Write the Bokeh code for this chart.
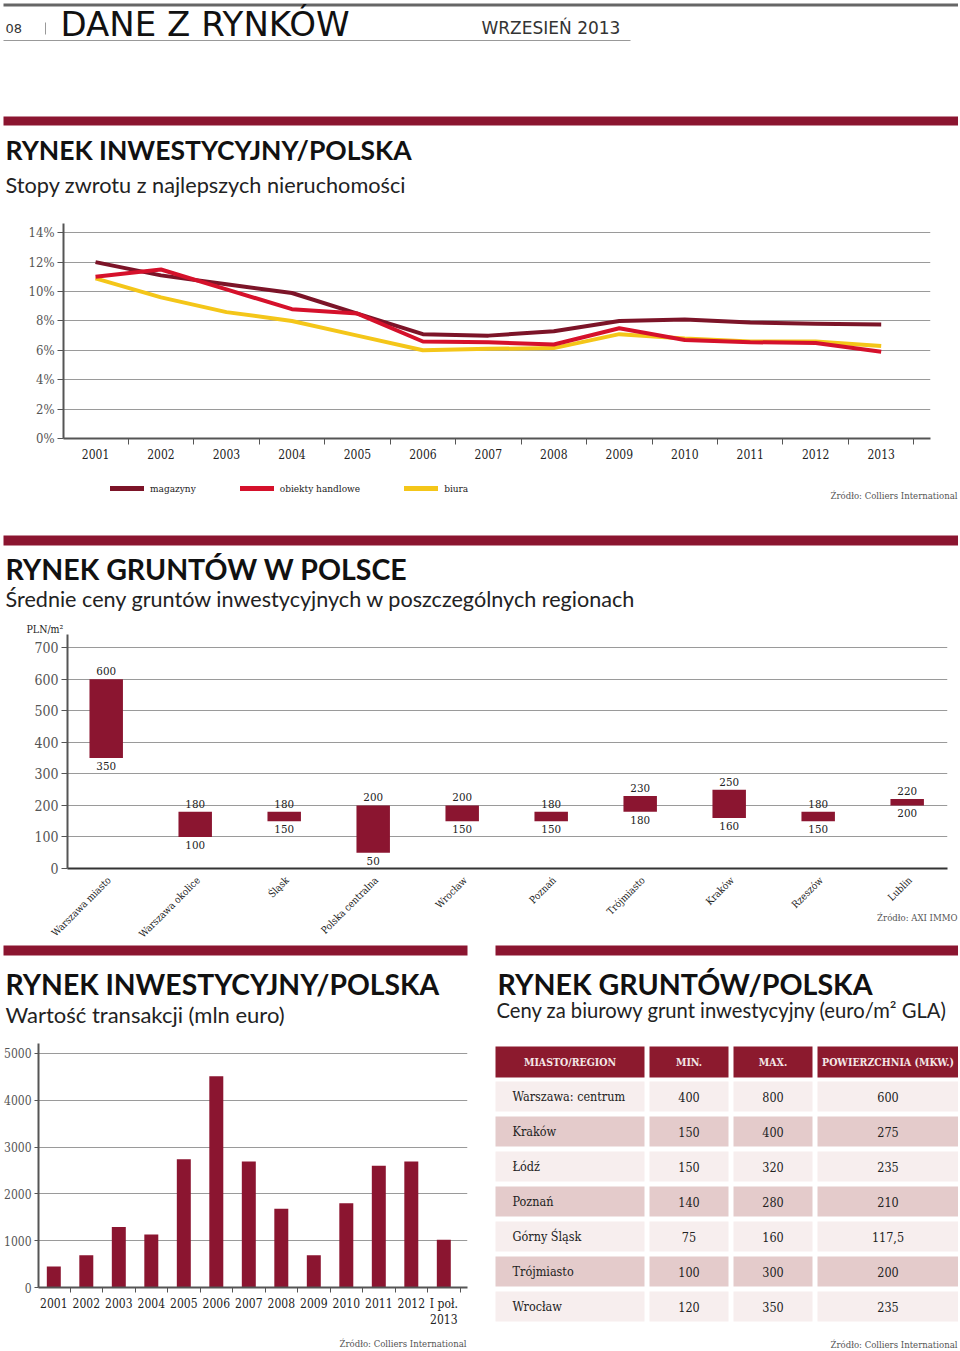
import math
from bokeh.plotting import figure
from bokeh.layouts import column, row
from bokeh.models import Range1d, FixedTicker, Legend, LegendItem, ColumnDataSource
from bokeh.core.properties import value
from bokeh.embed import file_html
from bokeh.resources import INLINE

# ---------------- data ----------------
years = [2001, 2002, 2003, 2004, 2005, 2006, 2007, 2008, 2009, 2010, 2011, 2012, 2013]
magazyny = [12.0, 11.1, 10.5, 9.9, 8.5, 7.1, 7.0, 7.3, 8.0, 8.1, 7.9, 7.8, 7.75]
obiekty_handlowe = [11.0, 11.5, 10.15, 8.8, 8.5, 6.6, 6.55, 6.4, 7.5, 6.7, 6.55, 6.5, 5.9]
biura = [10.9, 9.6, 8.6, 8.0, 7.0, 6.0, 6.1, 6.15, 7.1, 6.8, 6.6, 6.6, 6.3]
pct_ticks = [0, 2, 4, 6, 8, 10, 12, 14]
pct_labels = ["0%", "2%", "4%", "6%", "8%", "10%", "12%", "14%"]

regions = ["Warszawa miasto", "Warszawa okolice", "Śląsk", "Polska centralna", "Wrocław",
           "Poznań", "Trójmiasto", "Kraków", "Rzeszów", "Lublin"]
price_min = [350, 100, 150, 50, 150, 150, 180, 160, 150, 200]
price_max = [600, 180, 180, 200, 200, 180, 230, 250, 180, 220]
pln_ticks = [0, 100, 200, 300, 400, 500, 600, 700]

periods = ["2001", "2002", "2003", "2004", "2005", "2006", "2007", "2008", "2009",
           "2010", "2011", "2012", "I poł.\n2013"]
transactions = [450, 690, 1290, 1130, 2740, 4510, 2690, 1680, 690, 1800, 2600, 2690, 1020]
eur_ticks = [0, 1000, 2000, 3000, 4000, 5000]

table_headers = ["MIASTO/REGION", "MIN.", "MAX.", "POWIERZCHNIA (MKW.)"]
cities = ["Warszawa: centrum", "Kraków", "Łódź", "Poznań", "Górny Śląsk", "Trójmiasto", "Wrocław"]
min_eur = ["400", "150", "150", "140", "75", "100", "120"]
max_eur = ["800", "400", "320", "280", "160", "300", "350"]
area = ["600", "275", "235", "210", "117,5", "200", "235"]

# ---------------- style ----------------
SERIF = "DejaVu Serif Condensed"
SANS = "Lato"
HEAD = "DejaVu Sans"
MAROON = "#8b1530"
C_MAG = "#7c1428"
C_HAN = "#d5112b"
C_BIU = "#f4c619"
GRID = "#9a9a9a"
AXIS = "#555555"
W = 958


def canvas(w, h, x0, y0, xr=None):
    p = figure(width=w, height=h, x_range=xr if xr is not None else Range1d(x0, x0 + w),
               y_range=Range1d(y0 + h, y0),
               x_axis_location=None, y_axis_location=None, toolbar_location=None,
               output_backend="svg", min_border=0, frame_align=False)
    p.grid.visible = False
    p.outline_line_color = None
    return p


def put(p, x, y, s, font, size, color="#111111", style="normal", align="left", baseline="middle"):
    p.text(x=[x], y=[y], text=[s], text_font=value(font), text_font_size=f"{size}px",
           text_font_style=style, text_color=color, text_align=align, text_baseline=baseline)


def bar(p, x0, x1, y0, y1, color=MAROON):
    p.quad(left=[x0], right=[x1], top=[y0], bottom=[y1], fill_color=color, line_color=None)


def section(w, h, x0, y0, bx0, bx1, by0, by1, title, tx, ty, tsize, sub, sx, sy, ssize):
    p = canvas(w, h, x0, y0)
    bar(p, bx0, bx1, by0, by1)
    put(p, tx, ty, title, SANS, tsize, "#111111", "bold")
    put(p, sx, sy, sub, SANS, ssize, "#222222")
    return p


def chart(w, h, xr, yr, left, right, top, bottom):
    p = figure(width=w, height=h, x_range=xr, y_range=yr, toolbar_location=None,
               output_backend="svg", frame_align=False,
               min_border_left=left, min_border_right=right, min_border_top=top,
               min_border_bottom=bottom)
    p.outline_line_color = None
    for ax in (p.xaxis, p.yaxis):
        ax.axis_line_color = AXIS
        ax.axis_line_width = 2
        ax.major_tick_line_color = AXIS
        ax.minor_tick_line_color = AXIS
        ax.major_tick_in = 0
        ax.minor_tick_in = 0
    p.yaxis.major_tick_out = 6
    p.yaxis.major_label_text_font = SERIF
    p.yaxis.major_label_text_color = "#555555"
    p.yaxis.major_label_standoff = 3
    p.xaxis.major_label_text_font = SERIF
    p.xaxis.major_label_text_color = "#222222"
    p.xgrid.grid_line_color = None
    p.ygrid.grid_line_color = GRID
    p.ygrid.grid_line_width = 1.2
    return p


# ---------------- header ----------------
f_head = canvas(W, 108, 0, 0)
bar(f_head, 3, W, 3, 6, "#666666")
put(f_head, 5, 28, "08", HEAD, 13, "#333333")
f_head.segment(x0=[45], y0=[22], x1=[45], y1=[34], line_color="#999999", line_width=1)
put(f_head, 60, 23, "DANE Z RYNKÓW", HEAD, 34, "#111111")
put(f_head, 481, 27.5, "WRZESIEŃ 2013", HEAD, 17, "#333333")
f_head.segment(x0=[3], y0=[40], x1=[630], y1=[40], line_color="#999999", line_width=1)

# ---------------- section 1: line chart ----------------
f_t1 = section(W, 99, 0, 108, 3, W, 116, 125,
               "RYNEK INWESTYCYJNY/POLSKA", 5, 149.5, 26.5,
               "Stopy zwrotu z najlepszych nieruchomości", 5, 184, 21.7)

f_line = chart(W, 255, Range1d(2000.511, 2013.753), Range1d(0, 14.63), 63, 28, 16, 24)
f_line.yaxis.ticker = FixedTicker(ticks=pct_ticks)
f_line.yaxis.major_label_overrides = {t: l for t, l in zip(pct_ticks, pct_labels)}
f_line.yaxis.major_label_text_font_size = "13px"
f_line.xaxis.ticker = FixedTicker(ticks=years, minor_ticks=[y + 0.5 for y in years])
f_line.xaxis.major_label_overrides = {y: str(y) for y in years}
f_line.xaxis.major_label_text_font_size = "12px"
f_line.xaxis.major_tick_line_color = None
f_line.xaxis.minor_tick_out = 6
f_line.xaxis.major_label_standoff = 4
f_line.line(years, biura, line_color=C_BIU, line_width=4, line_join="round")
f_line.line(years, magazyny, line_color=C_MAG, line_width=4, line_join="round")
f_line.line(years, obiekty_handlowe, line_color=C_HAN, line_width=4, line_join="round")

# legend strip: same series with the same styles (the series lie outside this strip's view)
f_leg = canvas(W, 53, 0, 462)
lg_mag = f_leg.line(years, magazyny, line_color=C_MAG, line_width=5, line_cap="round")
lg_han = f_leg.line(years, obiekty_handlowe, line_color=C_HAN, line_width=5, line_cap="round")
lg_biu = f_leg.line(years, biura, line_color=C_BIU, line_width=5, line_cap="round")
legend = Legend(items=[LegendItem(label="magazyny", renderers=[lg_mag]),
                       LegendItem(label="obiekty handlowe", renderers=[lg_han]),
                       LegendItem(label="biura", renderers=[lg_biu])],
                orientation="horizontal", location=(110, 17), glyph_width=34, label_standoff=6,
                spacing=44, padding=0, margin=0, border_line_color=None, background_fill_alpha=0,
                label_text_font=SERIF, label_text_font_size="10px", label_text_color="#222222")
f_leg.add_layout(legend)
put(f_leg, 957, 495, "Źródło: Colliers International", SERIF, 9.5, "#555555", align="right")

# ---------------- section 2: range chart ----------------
f_t2 = section(W, 119, 0, 515, 3, W, 535, 545,
               "RYNEK GRUNTÓW W POLSCE", 5, 568, 28.5,
               "Średnie ceny gruntów inwestycyjnych w poszczególnych regionach", 5, 598, 21.6)
put(f_t2, 26, 628, "PLN/m²", SERIF, 10.5, "#222222")

idx = list(range(len(regions)))
RX0, RX1 = -0.435, 9.453
R_LEFT, R_RIGHT = 67, 11
r_px = (W - R_LEFT - R_RIGHT) / (RX1 - RX0)
src_r = ColumnDataSource(dict(x=idx, lo=price_min, hi=price_max,
                              lo_s=[str(v) for v in price_min], hi_s=[str(v) for v in price_max]))
f_range = chart(W, 242, Range1d(RX0, RX1), Range1d(0, 742), R_LEFT, R_RIGHT, 0, 8)
f_range.yaxis.ticker = FixedTicker(ticks=pln_ticks)
f_range.yaxis.major_label_text_font_size = "14px"
f_range.xaxis.ticker = FixedTicker(ticks=[])
f_range.xaxis.axis_line_color = "#333333"
f_range.vbar(x="x", bottom="lo", top="hi", width=0.376, source=src_r, fill_color=MAROON, line_color=None)
f_range.text(x="x", y="hi", text="hi_s", source=src_r, text_align="center", text_baseline="bottom",
             y_offset=-4, text_font=value(SERIF), text_font_size="11.5px", text_color="#222222")
f_range.text(x="x", y="lo", text="lo_s", source=src_r, text_align="center", text_baseline="top",
             y_offset=4, text_font=value(SERIF), text_font_size="11.5px", text_color="#222222")

# region labels (rotated) on the same x scale, plus source
f_rlab = canvas(W, 67, 0, 876, xr=Range1d(RX0 - R_LEFT / r_px, RX1 + R_RIGHT / r_px))
f_rlab.text(x=idx, y=[878] * len(idx), text=regions, angle=math.pi / 4, text_align="right",
            text_baseline="middle", x_offset=3, text_font=value(SERIF), text_font_size="10px",
            text_color="#222222")
put(f_rlab, RX1 + (R_RIGHT - 1) / r_px, 917, "Źródło: AXI IMMO", SERIF, 9.5, "#555555",
    align="right")

# ---------------- section 3: bar chart ----------------
f_t3 = section(480, 92, 0, 943, 3, 467, 945, 955,
               "RYNEK INWESTYCYJNY/POLSKA", 5, 983, 28.3,
               "Wartość transakcji (mln euro)", 5, 1014, 22)

pidx = list(range(len(periods)))
src_b = ColumnDataSource(dict(x=pidx, v=transactions))
f_bar = chart(480, 295, Range1d(-0.471, 12.729), Range1d(0, 5210), 38, 13, 8, 36)
f_bar.yaxis.ticker = FixedTicker(ticks=eur_ticks)
f_bar.yaxis.major_tick_out = 4
f_bar.yaxis.major_label_text_font_size = "12px"
f_bar.xaxis.ticker = FixedTicker(ticks=pidx, minor_ticks=[i + 0.5 for i in pidx])
f_bar.xaxis.major_label_overrides = {i: s for i, s in zip(pidx, periods)}
f_bar.xaxis.major_label_text_font_size = "12px"
f_bar.xaxis.major_tick_line_color = None
f_bar.xaxis.minor_tick_out = 5
f_bar.xaxis.major_label_standoff = 3
f_bar.vbar(x="x", top="v", width=0.43, source=src_b, fill_color=MAROON, line_color=None)

f_bsrc = canvas(480, 19, 0, 1330)
put(f_bsrc, 466, 1343, "Źródło: Colliers International", SERIF, 9.5, "#555555", align="right")

# ---------------- section 4: table ----------------
f_t4 = section(478, 92, 480, 943, 495, W, 945, 955,
               "RYNEK GRUNTÓW/POLSKA", 497, 983, 28.6,
               "Ceny za biurowy grunt inwestycyjny (euro/m² GLA)", 496, 1009.5, 20.2)

col_left = [495, 649, 733, 817]
col_right = [644, 728, 812, 958]
col_text_x = [512, 688.5, 772.5, 887.5]
col_align = ["left", "center", "center", "center"]
head_top, head_bot = 1046, 1077
row_top0, row_pitch, row_h = 1081, 35, 30

f_table = canvas(478, 314, 480, 1035)
cl, cr, ct, cb, cc = [], [], [], [], []
for j in range(4):
    cl.append(col_left[j]); cr.append(col_right[j]); ct.append(head_top); cb.append(head_bot)
    cc.append("#8c1a2e")
rows_data = [cities, min_eur, max_eur, area]
for i in range(len(cities)):
    for j in range(4):
        cl.append(col_left[j]); cr.append(col_right[j])
        ct.append(row_top0 + i * row_pitch); cb.append(row_top0 + i * row_pitch + row_h)
        cc.append("#f7eeee" if i % 2 == 0 else "#e4cbcb")
f_table.quad(left=cl, right=cr, top=ct, bottom=cb, fill_color=cc, line_color=None)

hx = [(col_left[j] + col_right[j]) / 2 for j in range(4)]
f_table.text(x=hx, y=[(head_top + head_bot) / 2] * 4, text=table_headers, text_align="center",
             text_baseline="middle", text_font=value(SERIF), text_font_size="10.5px",
             text_font_style="bold", text_color="#f4e6e6")
tx, ty, tt, ta = [], [], [], []
for i in range(len(cities)):
    for j in range(4):
        tx.append(col_text_x[j]); ty.append(row_top0 + i * row_pitch + row_h / 2)
        tt.append(rows_data[j][i]); ta.append(col_align[j])
f_table.text(x=tx, y=ty, text=tt, text_align=ta, text_baseline="middle", text_font=value(SERIF),
             text_font_size="12.5px", text_color="#222222")
put(f_table, 957, 1344, "Źródło: Colliers International", SERIF, 9.5, "#555555", align="right")

layout = column(f_head, f_t1, f_line, f_leg, f_t2, f_range, f_rlab,
                row(column(f_t3, f_bar, f_bsrc), column(f_t4, f_table)))

open("out.html", "w").write(file_html(layout, INLINE, title="Dane z rynków"))
